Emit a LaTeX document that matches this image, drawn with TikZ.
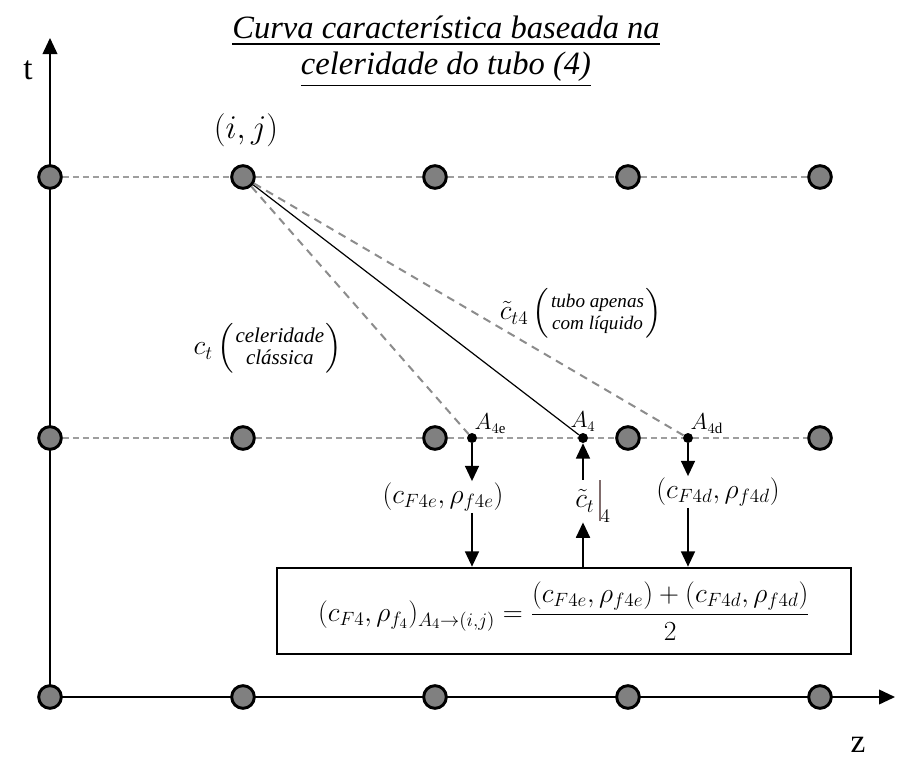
\documentclass[tikz,border=0pt]{standalone}
\usepackage{amsmath}
\usepackage{fontspec}
\setmainfont{Liberation Serif}
\usepackage{tikz}
\usetikzlibrary{arrows.meta,calc}
\definecolor{barbrown}{RGB}{128,108,108}

\begin{document}
\begin{tikzpicture}[x=0.75pt,y=-0.75pt]
    % Styles for grid points, dots, lines and arrows
    \tikzset{
      gridpt/.style={circle, draw=black, line width=2.2pt, fill=black!50, minimum size=17pt, inner sep=0pt},
      dotpt/.style={circle, fill=black, minimum size=7.5pt, inner sep=0pt},
      gridline/.style={draw=black!38, line width=0.8pt, dash pattern=on 4.5pt off 3pt},
      charline/.style={draw=black!45, line width=1.5pt, dash pattern=on 6pt off 4.5pt},
      axis/.style={line width=1.3pt, -{Triangle[width=11pt,length=12pt]}},
      arrow/.style={line width=1.3pt, -{Triangle[width=10.5pt,length=11.5pt]}},
      mathlbl/.style={font=\fontsize{22.5}{26}\selectfont, inner sep=1pt},
      ptlbl/.style={font=\fontsize{16}{18}\selectfont, inner sep=1pt}
    }
    \useasboundingbox (0,0) rectangle (897,761);

    % Axes
    \coordinate (o) at (50,697);
    \coordinate (tTop) at (50,38);
    \coordinate (zEnd) at (895,697);
    \draw[axis] (o) -- (tTop);
    \draw[axis] (o) -- (zEnd);
    \node[font=\fontsize{25}{27}\selectfont] (tlbl) at (28,70) {t};
    \node[font=\fontsize{25}{27}\selectfont] (zlbl) at (858,745) {z};

    % Title
    \node[align=center, font=\fontsize{24.4}{26.5}\selectfont\itshape] (title) at (446,52)
      {\underline{Curva característica baseada na}\\\underline{celeridade do tubo (4)}};

    % Grid points (rows: top, middle, bottom)
    \node[gridpt] (g1a) at (50,177) {};
    \node[gridpt] (ij) at (243,177) {};
    \node[gridpt] (g1c) at (435,177) {};
    \node[gridpt] (g1d) at (628,177) {};
    \node[gridpt] (g1e) at (820,177) {};
    \node[gridpt] (g2a) at (50,438) {};
    \node[gridpt] (g2b) at (243,438) {};
    \node[gridpt] (g2c) at (435,438) {};
    \node[gridpt] (g2d) at (628,438) {};
    \node[gridpt] (g2e) at (820,438) {};
    \node[gridpt] (g3a) at (50,697) {};
    \node[gridpt] (g3b) at (243,697) {};
    \node[gridpt] (g3c) at (435,697) {};
    \node[gridpt] (g3d) at (628,697) {};
    \node[gridpt] (g3e) at (820,697) {};

    % Interpolation points
    \node[dotpt] (A4e) at (472,438) {};
    \node[dotpt] (A4) at (583,438) {};
    \node[dotpt] (A4d) at (688,438) {};
    \node[ptlbl, anchor=south west] at ($(A4e)+(1,-3)$) {$A_{4\mathrm{e}}$};
    \node[ptlbl, anchor=south] at ($(A4)+(0,-5)$) {$A_{4}$};
    \node[ptlbl, anchor=south west] at ($(A4d)+(1,-3)$) {$A_{4\mathrm{d}}$};

    % Dashed grid lines
    \draw[gridline] (g1a) -- (ij) -- (g1c) -- (g1d) -- (g1e);
    \draw[gridline] (g2a) -- (g2b) -- (g2c) -- (A4e) -- (A4) -- (g2d) -- (A4d) -- (g2e);

    % Characteristic lines
    \draw[charline] (ij) -- (A4e);
    \draw[line width=0.9pt] (ij) -- (A4);
    \draw[charline] (ij) -- (A4d);

    \node[font=\fontsize{26}{29}\selectfont] (ijlbl) at (246,130) {$(i,j)$};
    \node[mathlbl] (ctlbl) at (268,348)
      {$c_t\left(\genfrac{}{}{0pt}{1}{\text{\itshape celeridade}}{\text{\itshape clássica}}\right)$};
    \node[mathlbl, font=\fontsize{20.5}{24}\selectfont] (ct4lbl) at (581,313)
      {$\tilde{c}_{t4}\left(\genfrac{}{}{0pt}{1}{\text{\itshape tubo apenas}}{\text{\itshape com líquido}}\right)$};

    % Values at the points and averaging box
    \node[mathlbl] (fe) at (443,497) {$(c_{F4e},\rho_{f4e})$};
    \node[mathlbl] (fd) at (718,492) {$(c_{F4d},\rho_{f4d})$};
    \node[mathlbl, anchor=west, inner sep=0pt] (ctv) at (575,501)
      {$\tilde{c}_t\,\mathord{\textcolor{barbrown}{\rule[-10pt]{1.2pt}{31pt}}}_4$};
    \node[rectangle, draw=black, line width=1.5pt, minimum width=431pt, minimum height=65pt,
          font=\fontsize{22.5}{25}\selectfont] (avg) at (564,611)
      {$(c_{F4},\rho_{f_4})_{A_4\to(i,j)} = \dfrac{(c_{F4e},\rho_{f4e})+(c_{F4d},\rho_{f4d})}{2}$};

    % Arrows
    \draw[arrow] (A4e) -- (A4e |- fe.north);
    \draw[arrow] (A4e |- fe.south) -- (A4e |- avg.north);
    \draw[arrow] (A4d) -- (A4d |- fd.north);
    \draw[arrow] (A4d |- fd.south) -- (A4d |- avg.north);
    \draw[arrow] (A4 |- ctv.north) -- (A4);
    \draw[arrow] (A4 |- avg.north) -- (A4 |- ctv.south);

\end{tikzpicture}
\end{document}
